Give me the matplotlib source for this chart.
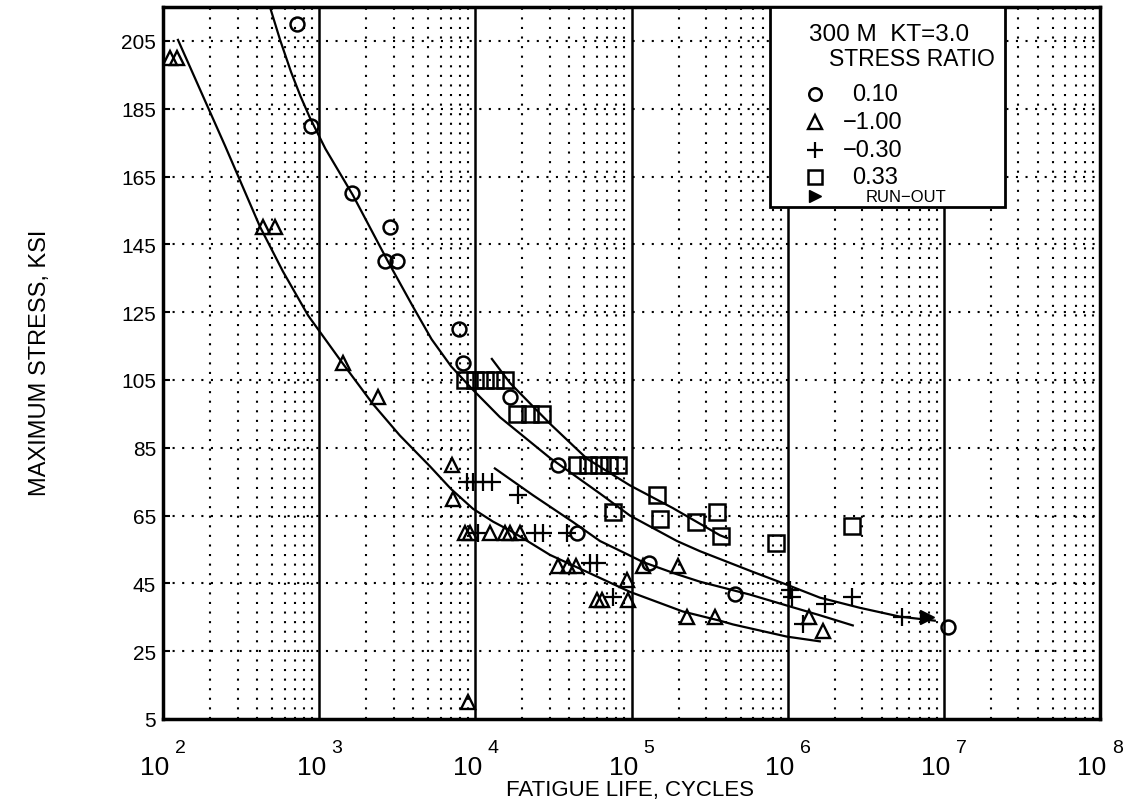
import numpy as np
import matplotlib
matplotlib.use('Agg')
import matplotlib.pyplot as plt
from matplotlib import font_manager as fm
from matplotlib import transforms as mtrans


def pick(fams):
    for f in fams:
        try:
            fm.findfont(fm.FontProperties(family=f), fallback_to_default=False)
            return f
        except Exception:
            pass
    return 'DejaVu Sans'


FONT = pick(['Liberation Sans Narrow', 'Liberation Sans', 'DejaVu Sans'])
plt.rcParams['font.family'] = [FONT, 'DejaVu Sans']

# ---------------- data ----------------
# R = 0.10 (circles)
r010_N = [720, 885, 1620, 2840, 2640, 3150, 7850, 8300, 16700, 33800, 44700,
          129000, 459000, 1.06e7]
r010_S = [210, 180, 160, 150, 140, 140, 120, 110, 100, 80, 60, 51, 42, 32]

# R = -1.00 (triangles)
rm100_N = [111, 123, 437, 521, 1420, 2380, 7100, 7200,
           8600, 9200, 12400, 15500, 16700, 19300, 9000,
           34000, 39000, 44000, 60000, 64600, 93000, 95000,
           118000, 198000, 226000, 342000, 1.37e6, 1.68e6]
rm100_S = [200, 200, 150, 150, 110, 100, 80, 70,
           60, 60, 60, 60, 60, 60, 10,
           50, 50, 50, 40, 40, 46, 40,
           50, 50, 35, 35, 35, 31]

# R = -0.30 (plus)
rm030_N = [8800, 9700, 11200, 12800, 18700, 10400, 24100, 27100, 38600,
           54200, 60000, 76000, 1.03e6, 1.07e6, 1.25e6, 1.73e6, 2.57e6, 5.38e6]
rm030_S = [75, 75, 75, 75, 71, 60, 60, 60, 60,
           51, 51, 41, 43, 41, 33, 39, 41, 35]

# R = 0.33 (squares)
r033_N = [8580, 9930, 11500, 13300, 15500,
          18400, 22400, 26700,
          44700, 52500, 61500, 71600, 81800,
          76000, 146000, 152000, 258000, 352000, 373000, 840000, 2.58e6]
r033_S = [105, 105, 105, 105, 105,
          95, 95, 95,
          80, 80, 80, 80, 80,
          66, 71, 64, 63, 66, 59, 57, 62]

# run-out
runout_N = [7.76e6]
runout_S = [35]

# fitted curves
curve010_N = [484, 562, 661, 759, 871, 1096, 1644, 2716, 4000, 5248, 7000,
              9460, 14390, 30060, 62810, 97720, 195400, 274200, 598400,
              988600, 1.607e6, 2.897e6, 5.224e6, 8.75e6]
curve010_S = [215, 205.3, 195.8, 188.7, 182.4, 173.2, 159.5, 140.5, 126.5,
              117, 109, 102.5, 94.0, 82, 71.5, 65.0, 57.5, 54.5, 48.4, 44.6,
              40.8, 37.8, 35.2, 34.0]

curve033_N = [12760, 16670, 30060, 51760, 97720, 184100, 368100, 408300]
curve033_S = [111.2, 104.1, 92.1, 81.8, 73.9, 67.2, 59.2, 58.4]

curvem030_N = [13340, 23390, 42170, 62810, 97720, 118300, 195400, 274200,
               572800, 1.033e6, 1.607e6, 2.612e6]
curvem030_S = [78.9, 71.0, 63.1, 57.5, 53.2, 51.3, 47.7, 45.5,
               41.7, 38.2, 35.6, 32.6]

curvem100_N = [124.7, 250, 417.8, 586.1, 850, 1358, 2200, 3289, 5129, 7000,
               9661, 13000, 17420, 30060, 51760, 97720, 213300, 368100,
               445700, 988600, 1.607e6]
curvem100_S = [205.3, 174, 150.2, 137.0, 124.0, 111.0, 98.0, 88.6, 79.5, 72.8,
               67.0, 63.2, 60.1, 53.4, 48.4, 42.5, 36.7, 34.0, 32.9, 29.3,
               27.9]

y_ticks = [5, 25, 45, 65, 85, 105, 125, 145, 165, 185, 205]
x_exponents = [2, 3, 4, 5, 6, 7, 8]
legend_labels = ['0.10', '\u22121.00', '\u22120.30', '0.33']

# ---------------- figure ----------------
fig = plt.figure(figsize=(11.25, 8.03), dpi=100)
ax = fig.add_axes([163 / 1125, 83 / 803, 937 / 1125, 712 / 803])
ax.set_xscale('log')
ax.set_xlim(1e2, 1e8)
ax.set_ylim(5, 215)

# grid
dot = (0, (1, 3.6))
for k in range(2, 8):
    for m in range(2, 10):
        ax.axvline(m * 10 ** k, color='k', lw=1.5, ls=dot, zorder=1)
    if k > 2:
        ax.axvline(10 ** k, color='k', lw=1.8, zorder=1)
for yv in y_ticks[1:]:
    ax.axhline(yv, color='k', lw=1.5, ls=dot, zorder=1)

# curves
kw = dict(color='k', lw=1.6, zorder=3)
ax.plot(curve010_N, curve010_S, **kw)
ax.plot(curve033_N, curve033_S, **kw)
ax.plot(curvem030_N, curvem030_S, **kw)
ax.plot(curvem100_N, curvem100_S, **kw)

# markers
ax.plot(r010_N, r010_S, 'o', ls='none', mfc='none', mec='k', ms=10, mew=1.8, zorder=4)
ax.plot(rm100_N, rm100_S, '^', ls='none', mfc='none', mec='k', ms=10.5, mew=1.7, zorder=4)
ax.plot(rm030_N, rm030_S, '+', ls='none', color='k', ms=13, mew=1.6, zorder=4)
ax.plot(r033_N, r033_S, 's', ls='none', mfc='none', mec='k', ms=11, mew=1.8, zorder=4)
ax.plot(runout_N, runout_S, '>', ls='none', color='k', ms=10, zorder=4)

# axes styling
for s in ax.spines.values():
    s.set_linewidth(2.5)
ax.set_yticks(y_ticks)
ax.set_yticklabels([str(v) for v in y_ticks], fontsize=15)
ax.tick_params(axis='y', direction='in', length=5, width=1.5, pad=5)
ax.set_xticks([10 ** e for e in x_exponents])
ax.set_xticklabels([])
ax.tick_params(axis='x', length=0)
ax.minorticks_off()

btr = mtrans.blended_transform_factory(ax.transData, ax.transAxes)
for e in x_exponents:
    t1 = mtrans.offset_copy(btr, fig=fig, x=-8, y=0, units='dots')
    ax.text(10 ** e, -0.067, '10', transform=t1, ha='center', va='center',
            fontsize=19, clip_on=False)
    t2 = mtrans.offset_copy(btr, fig=fig, x=12, y=0, units='dots')
    ax.text(10 ** e, -0.040, str(e), transform=t2, ha='left', va='center',
            fontsize=14, clip_on=False)

fig.text(630 / 1125, 1 - 791 / 803, 'FATIGUE LIFE, CYCLES', ha='center',
         va='center', fontsize=16)
fig.text(40 / 1125, 1 - 363 / 803, 'MAXIMUM STRESS, KSI', ha='center',
         va='center', rotation=90, fontsize=17)

# legend box
def fx(px):
    return (px - 163) / 937


def fy(py):
    return (720 - py) / 712


box = plt.Rectangle((fx(770), fy(208)), fx(1005) - fx(770), 1 - fy(208),
                    transform=ax.transAxes, facecolor='white', edgecolor='k',
                    lw=2.0, zorder=6, clip_on=False)
ax.add_patch(box)
ax.text(fx(809), fy(35), '300 M  KT=3.0', transform=ax.transAxes, ha='left',
        va='center', fontsize=17.5, zorder=7)
ax.text(fx(829), fy(60), 'STRESS RATIO', transform=ax.transAxes, ha='left',
        va='center', fontsize=16.5, zorder=7)
rows = [95, 123, 151, 178]
mk = [dict(marker='o', mfc='none', mec='k', ms=9, mew=1.8),
      dict(marker='^', mfc='none', mec='k', ms=9.5, mew=1.7),
      dict(marker='+', color='k', ms=12, mew=1.6),
      dict(marker='s', mfc='none', mec='k', ms=10.5, mew=1.8)]
for r, m, lab in zip(rows, mk, legend_labels):
    ax.plot([fx(815)], [fy(r)], ls='none', transform=ax.transAxes, zorder=7,
            clip_on=False, **m)
    xt = 843 if lab.startswith('\u2212') else 852
    ax.text(fx(xt), fy(r), lab, transform=ax.transAxes, ha='left', va='center',
            fontsize=17, zorder=7)
ax.plot([fx(815)], [fy(197)], '>', color='k', ms=9, transform=ax.transAxes,
        zorder=7, clip_on=False)
ax.text(fx(866), fy(197), 'RUN\u2212OUT', transform=ax.transAxes, ha='left',
        va='center', fontsize=12, zorder=7)

fig.savefig('out.png', dpi=100, facecolor='white')
